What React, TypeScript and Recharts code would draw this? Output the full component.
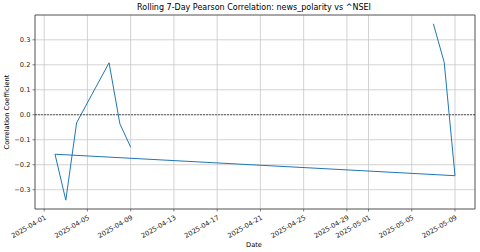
import React from 'react';
import {
  LineChart,
  Line,
  XAxis,
  YAxis,
  CartesianGrid,
  ReferenceLine,
  ReferenceArea,
} from 'recharts';

// rows as they come out of the rolling window (not sorted by date)
const DATES = [
  '2025-05-07',
  '2025-05-08',
  '2025-05-09',
  '2025-04-02',
  '2025-04-03',
  '2025-04-04',
  '2025-04-07',
  '2025-04-08',
  '2025-04-09',
];
const CORR = [0.364, 0.21, -0.244, -0.158, -0.342, -0.032, 0.208, -0.036, -0.13];

const X_TICKS = [
  '2025-04-01',
  '2025-04-05',
  '2025-04-09',
  '2025-04-13',
  '2025-04-17',
  '2025-04-21',
  '2025-04-25',
  '2025-04-29',
  '2025-05-01',
  '2025-05-05',
  '2025-05-09',
];
const Y_TICKS = [-0.3, -0.2, -0.1, 0.0, 0.1, 0.2, 0.3];

const toDay = (s: string) => Date.parse(s + 'T00:00:00Z') / 86400000;
const fromDay = (d: number) => new Date(Math.round(d) * 86400000).toISOString().slice(0, 10);

const data = DATES.map((d, i) => ({ day: toDay(d), corr: CORR[i] }));

const dayMin = Math.min(...data.map((d) => d.day));
const dayMax = Math.max(...data.map((d) => d.day));
const xPad = (dayMax - dayMin) * 0.05;
const X_DOMAIN: [number, number] = [dayMin - xPad, dayMax + xPad];

const vMin = Math.min(...CORR);
const vMax = Math.max(...CORR);
const yPad = (vMax - vMin) * 0.05;
const Y_DOMAIN: [number, number] = [vMin - yPad, vMax + yPad];

const FONT = '"DejaVu Sans", sans-serif';
const TICK_FS = 6.7;

const XTick = (props: any) => {
  const { x, y, payload } = props;
  return (
    <g transform={`translate(${x},${y + 1})`}>
      <text
        x={0}
        y={0}
        dy="0.75em"
        textAnchor="end"
        transform="rotate(-30)"
        fontSize={TICK_FS}
        fontFamily={FONT}
        fill="#222"
      >
        {fromDay(payload.value)}
      </text>
    </g>
  );
};

const fmtY = (v: number) => {
  const s = Math.abs(v).toFixed(1);
  return v < -1e-9 ? '\u2212' + s : s;
};

export default function App() {
  return (
    <div style={{ position: 'absolute', left: 0, top: 0, width: 480, height: 252, background: '#fff' }}>
      <svg width={480} height={252} style={{ position: 'absolute', left: 0, top: 0 }}>
        <text x={254} y={10} textAnchor="middle" fontSize={8} fontFamily={FONT} fill="#000">
          Rolling 7-Day Pearson Correlation: news_polarity vs ^NSEI
        </text>
        <text
          x={0}
          y={0}
          transform="translate(9,112) rotate(-90)"
          textAnchor="middle"
          fontSize={TICK_FS}
          fontFamily={FONT}
          fill="#000"
        >
          Correlation Coefficient
        </text>
        <text x={254} y={247} textAnchor="middle" fontSize={TICK_FS} fontFamily={FONT} fill="#000">
          Date
        </text>
      </svg>
      <div style={{ position: 'absolute', left: 0, top: 0 }}>
        <LineChart width={480} height={252} data={data} margin={{ top: 15, right: 5, bottom: 0, left: 0 }}>
          <CartesianGrid stroke="#c8c8c8" strokeWidth={0.8} />
          <XAxis
            dataKey="day"
            type="number"
            domain={X_DOMAIN}
            ticks={X_TICKS.map(toDay)}
            height={43}
            interval={0}
            tick={<XTick />}
            tickSize={2.5}
            tickLine={{ stroke: '#333', strokeWidth: 0.6 }}
            axisLine={false}
            allowDataOverflow
          />
          <YAxis
            type="number"
            domain={Y_DOMAIN}
            ticks={Y_TICKS}
            width={35}
            tickFormatter={fmtY}
            tick={{ fontSize: TICK_FS, fontFamily: FONT, fill: '#222' }}
            tickSize={2.5}
            tickMargin={2}
            tickLine={{ stroke: '#333', strokeWidth: 0.6 }}
            axisLine={false}
            allowDataOverflow
          />
          <ReferenceArea
            x1={X_DOMAIN[0]}
            x2={X_DOMAIN[1]}
            y1={Y_DOMAIN[0]}
            y2={Y_DOMAIN[1]}
            fill="none"
            fillOpacity={0}
            stroke="#444"
            strokeWidth={0.8}
          />
          <ReferenceLine y={0} stroke="#000" strokeWidth={0.6} strokeDasharray="2 1" />
          <Line
            type="linear"
            dataKey="corr"
            stroke="#1f77b4"
            strokeWidth={1}
            dot={false}
            isAnimationActive={false}
          />
        </LineChart>
      </div>
    </div>
  );
}
